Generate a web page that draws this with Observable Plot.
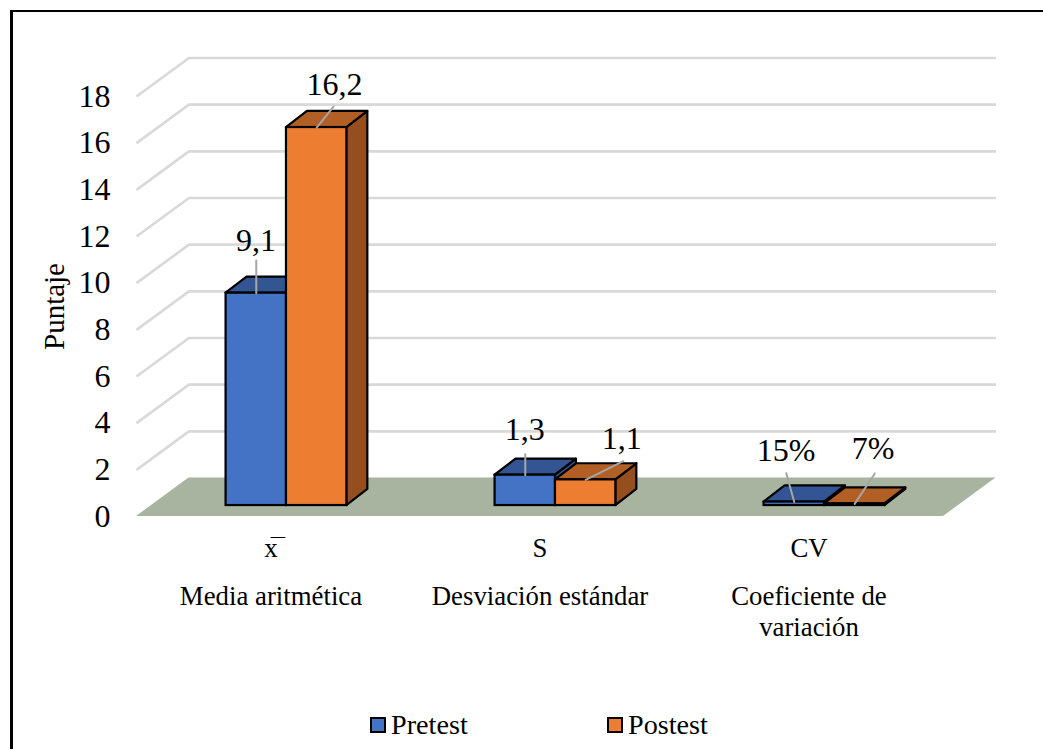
<!DOCTYPE html>
<html><head><meta charset="utf-8">
<script src="https://cdn.jsdelivr.net/npm/d3@7"></script>
<script src="https://cdn.jsdelivr.net/npm/@observablehq/plot@0.6"></script>
<style>
html,body{margin:0;padding:0;background:#fff;overflow:hidden}
#page{position:relative;width:1043px;height:749px;overflow:hidden;font-family:"Liberation Serif",serif}
#border{position:absolute;left:10px;top:10px;width:1100px;height:800px;border-top:2px solid #000;border-left:3px solid #000;box-sizing:border-box}
#plot{position:absolute;left:0;top:0}
#legend{position:absolute;top:710px;left:0;width:1043px;height:30px;font-size:28.2px;color:#000}
.key{position:absolute;top:0;display:flex;align-items:center;line-height:30px}
.sw{display:inline-block;width:12px;height:12px;border:2px solid #000;margin-right:5px}
</style></head><body>
<div id="page"><div id="border"></div><div id="plot"></div>
<div id="legend"></div></div>
<script>
const seriesNames = ["Pretest", "Postest"];
const categories = ["x", "S", "CV"];
const descriptions = ["Media aritmética", "Desviación estándar", "Coeficiente de\nvariación"];
const pretest = [9.1, 1.3, 0.15];
const postest = [16.2, 1.1, 0.07];
const pretestLabels = ["9,1", "1,3", "15%"];
const postestLabels = ["16,2", "1,1", "7%"];
const yTicks = [0,2,4,6,8,10,12,14,16,18];

const frontColors = ["#4472C4", "#ED7D31"];
const topColors = ["#335593", "#B25F25"];
const sideColors = ["#335593", "#954F1E"];

// oblique projection, in scale units
const wallDx = 0.195, wallDy = 1.65;   // depth of the floor
const barShift = 0.0575, barLift = 0.47; // bars stand part way into the floor
const barW = 0.2245, depthDx = 0.078, depthDy = 0.69;

const bars = [];
[pretest, postest].forEach((vals, s) => vals.forEach((v, c) => {
  const x0 = c + 0.5 + barShift + (s - 1) * barW;
  bars.push({s, c, v, x0, x1: x0 + barW, base: barLift, top: barLift + v});
}));

const grid = yTicks.filter(t => t > 0).flatMap(t => [
  {t, x: 0, y: t}, {t, x: wallDx, y: t + wallDy}, {t, x: 3 + wallDx, y: t + wallDy}
]);
const floor = [{y: 0, x1: 0, x2: 3}, {y: wallDy, x1: wallDx, x2: 3 + wallDx}];

const topFaces = bars.flatMap((b, i) => [
  {i, s: b.s, y: b.top, x1: b.x0, x2: b.x1},
  {i, s: b.s, y: b.top + depthDy, x1: b.x0 + depthDx, x2: b.x1 + depthDx}
]);
const sideFaces = bars.flatMap((b, i) => [
  {i, s: b.s, x: b.x1, y1: b.base, y2: b.top},
  {i, s: b.s, x: b.x1 + depthDx, y1: b.base + depthDy, y2: b.top + depthDy}
]);

// label anchors and leader-line ends, relative to each bar's top centre
const spec = [
  {bar: 0, dx: -0.001, lab: 2.24, lx: 0, l1: 1.4},
  {bar: 3, dx: 0.066, lab: 1.84, lx: 0.063, l1: 0.9},
  {bar: 1, dx: -0.002, lab: 1.93, lx: 0, l1: 0.9},
  {bar: 4, dx: 0.134, lab: 1.76, lx: 0.14, l1: 0.8},
  {bar: 2, dx: -0.03, lab: 2.2, lx: -0.03, l1: 1.24},
  {bar: 5, dx: 0.068, lab: 2.38, lx: 0.075, l1: 1.3}
];
const labels = [];
const leaders = [];
spec.forEach((o, i) => {
  const b = bars[o.bar];
  const cx = (b.x0 + b.x1) / 2;
  const text = (b.s === 0 ? pretestLabels : postestLabels)[b.c];
  labels.push({x: cx + o.dx, y: b.top + o.lab, text});
  leaders.push({i, x: cx, y: b.top}, {i, x: cx + o.lx, y: b.top + o.l1});
});
// the bar over the "x"
const macron = [{x: 0.5, y: -0.9}, {x: 0.552, y: -0.9}];

const chart = Plot.plot({
  width: 1043, height: 749,
  marginLeft: 136, marginRight: 100, marginTop: 96, marginBottom: 233,
  style: {background: "transparent", fontFamily: '"Liberation Serif",serif'},
  x: {domain: [0, 3], range: [136, 943], axis: null},
  y: {domain: [0, 18], range: [516, 96], axis: null},
  marks: [
    Plot.line(grid, {x: "x", y: "y", z: "t", stroke: "#D9D9D9", strokeWidth: 2.6, strokeLinecap: "butt", curve: "linear"}),
    Plot.areaX(floor, {y: "y", x1: "x1", x2: "x2", fill: "#A9B4A0"}),
    Plot.axisY({ticks: yTicks, tickSize: 0, tickPadding: 26, fontSize: 32, label: null, anchor: "left", color: "#000", fill: "#000"}),
    Plot.text(["Puntaje"], {x: () => -0.305, y: () => 9, rotate: -90, fontSize: 29, fill: "#000", text: d => d}),
    Plot.areaY(sideFaces, {x: "x", y1: "y1", y2: "y2", z: "i", fill: d => sideColors[d.s], stroke: "#000", strokeWidth: 2.2, strokeLinejoin: "round"}),
    Plot.areaX(topFaces, {y: "y", x1: "x1", x2: "x2", z: "i", fill: d => topColors[d.s], stroke: "#000", strokeWidth: 2.2, strokeLinejoin: "round"}),
    Plot.rect(bars, {x1: "x0", x2: "x1", y1: "base", y2: "top", fill: d => frontColors[d.s], stroke: "#000", strokeWidth: 2.2}),
    Plot.line(leaders, {x: "x", y: "y", z: "i", stroke: "#A6A6A6", strokeWidth: 2}),
    Plot.text(labels, {x: "x", y: "y", text: "text", fontSize: 32, fill: "#000"}),
    Plot.text(categories, {x: (d, i) => i + 0.5, y: () => -1.36, text: d => d, fontSize: 26.8, fill: "#000"}),
    Plot.line(macron, {x: "x", y: "y", stroke: "#000", strokeWidth: 1.2}),
    Plot.text(descriptions, {x: (d, i) => i + 0.5, y: () => -2.85, text: d => d, fontSize: 26.8, fill: "#000", lineAnchor: "top", lineHeight: 1.15})
  ]
});
document.getElementById("plot").appendChild(chart);

const legend = document.getElementById("legend");
const legendX = [370, 607];
seriesNames.forEach((n, i) => {
  const k = document.createElement("div");
  k.className = "key"; k.style.left = legendX[i] + "px";
  const sw = document.createElement("span");
  sw.className = "sw"; sw.style.background = frontColors[i];
  k.append(sw, document.createTextNode(n));
  legend.appendChild(k);
});
</script></body></html>
